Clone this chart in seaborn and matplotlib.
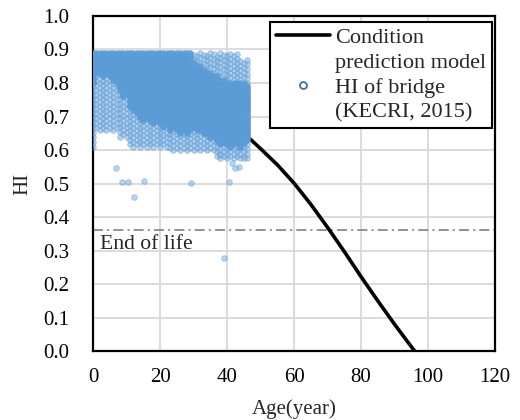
import numpy as np
import pandas as pd
import matplotlib
matplotlib.use("Agg")
import matplotlib.pyplot as plt
import seaborn as sns
from matplotlib.lines import Line2D

# ---- data ----
# condition prediction model curve (age, HI); part below age 47 is hidden by the data cloud
model_age = [0, 10, 20, 30, 40, 47.2, 50, 55, 60, 65, 70, 75, 80, 85, 90, 96]
model_hi = [0.87, 0.84, 0.80, 0.75, 0.685, 0.63, 0.604, 0.556, 0.501, 0.438, 0.369, 0.297, 0.222, 0.150, 0.080, 0.0]

# HI of bridge (KECRI, 2015): per-age ranges of the data cloud
bridge_age = list(range(0, 47))
dense_top = ([0.89] * 30 + [0.86, 0.85, 0.85, 0.84, 0.83, 0.83, 0.82, 0.82, 0.81]
             + [0.81, 0.80, 0.80, 0.80, 0.80, 0.80, 0.80, 0.79])
dense_bot = ([0.80, 0.83, 0.83, 0.82, 0.83, 0.82, 0.81, 0.80, 0.78, 0.76, 0.77,
              0.73, 0.72, 0.71, 0.70, 0.69, 0.70, 0.69, 0.68, 0.69, 0.68, 0.67, 0.68,
              0.66, 0.67, 0.66, 0.65, 0.66, 0.65, 0.66, 0.67, 0.66, 0.66, 0.65, 0.65,
              0.64, 0.64, 0.63, 0.62, 0.62, 0.62, 0.61, 0.62, 0.62, 0.61, 0.62, 0.63])
sparse_top = [0.89] * 44 + [0.87] * 3
sparse_bot = ([0.61] + [0.66] * 7 + [0.64] * 3 + [0.61] * 12 + [0.60] * 14 + [0.575] * 10)

# isolated points
out_age = [6.7, 8.7, 10.3, 15.2, 12.2, 29.2, 40.7, 39.2, 38.0, 41.5, 43.5, 45.0, 42.5]
out_hi = [0.546, 0.504, 0.505, 0.509, 0.461, 0.501, 0.504, 0.277, 0.585, 0.56, 0.55, 0.575, 0.545]

eol_hi = 0.36

# ---- build scatter tables ----
dx, dy, sx, sy = [], [], [], []
for i, a in enumerate(bridge_age):
    for h in np.arange(dense_bot[i], dense_top[i] + 1e-9, 0.005):
        dx.append(a); dy.append(h)
    off = 0.007 if i % 2 else 0.0
    for h in np.arange(sparse_bot[i] + off, dense_bot[i], 0.014):
        sx.append(a); sy.append(h)
    for h in np.arange(dense_top[i] + 0.01 + off, sparse_top[i] + 1e-9, 0.014):
        sx.append(a); sy.append(h)
sx += out_age; sy += out_hi
dense = pd.DataFrame({"Age": dx, "HI": dy})
sparse = pd.DataFrame({"Age": sx, "HI": sy})
curve = pd.DataFrame({"Age": model_age, "HI": model_hi})

sns.set_theme(style="white")
plt.rcParams["font.family"] = ["Liberation Serif", "DejaVu Serif"]
plt.rcParams["font.size"] = 15

fig = plt.figure(figsize=(5.2, 4.2), dpi=100)
ax = fig.add_axes([0.179, 0.164, 0.773, 0.798])

sns.lineplot(data=curve, x="Age", y="HI", color="black", lw=2.6, sort=False,
             estimator=None, ax=ax, zorder=2)
sns.scatterplot(data=sparse, x="Age", y="HI", s=16, color="#7FB2E0",
                edgecolor="#5B9BD5", linewidth=0.6, alpha=0.55, ax=ax, zorder=3)
sns.scatterplot(data=dense, x="Age", y="HI", s=16, color="#5E9FD9",
                edgecolor="#5B9BD5", linewidth=0.6, alpha=0.9, ax=ax, zorder=3)

ax.axhline(eol_hi, color="#808080", lw=1.2, dashes=(6, 2.5, 1.2, 2.5), zorder=1.5)
ax.text(2, 0.347, "End of life", ha="left", va="top", fontsize=15.6)

ax.set_xlim(0, 120)
ax.set_ylim(0, 1.0)
ax.set_xticks(np.arange(0, 121, 20))
ax.set_yticks(np.arange(0, 1.01, 0.1))
ax.set_yticklabels([f"{v:.1f}" for v in np.arange(0, 1.01, 0.1)])
ax.grid(True, color="#D9D9D9", lw=1.3)
ax.set_axisbelow(True)
for s in ax.spines.values():
    s.set_color("black"); s.set_linewidth(1.6)
ax.tick_params(axis="both", length=0, labelsize=15, colors="black")
ax.tick_params(axis="y", pad=17)
ax.tick_params(axis="x", pad=12)
ax.set_xlabel("Age(year)", fontsize=15, labelpad=9)
ax.set_ylabel("HI", fontsize=15, labelpad=8)

blank = Line2D([0], [0], ls="none", marker=None)
handles = [Line2D([0], [0], color="black", lw=2.6), blank,
           Line2D([0], [0], marker="o", ls="none", markersize=5,
                  markerfacecolor="white", markeredgecolor="#41719C", markeredgewidth=1.3),
           blank]
labels = ["Condition", "prediction model", "HI of bridge", "(KECRI, 2015)"]
leg = ax.legend(handles, labels,
                loc="upper right", bbox_to_anchor=(0.9925, 0.983), borderaxespad=0,
                fancybox=False, framealpha=1, edgecolor="black", fontsize=16,
                handlelength=2.45, handletextpad=0.22, labelspacing=0.2,
                borderpad=0.25)
leg.get_frame().set_linewidth(1.5)
leg.set_zorder(5)

fig.savefig("out.png", dpi=100)
